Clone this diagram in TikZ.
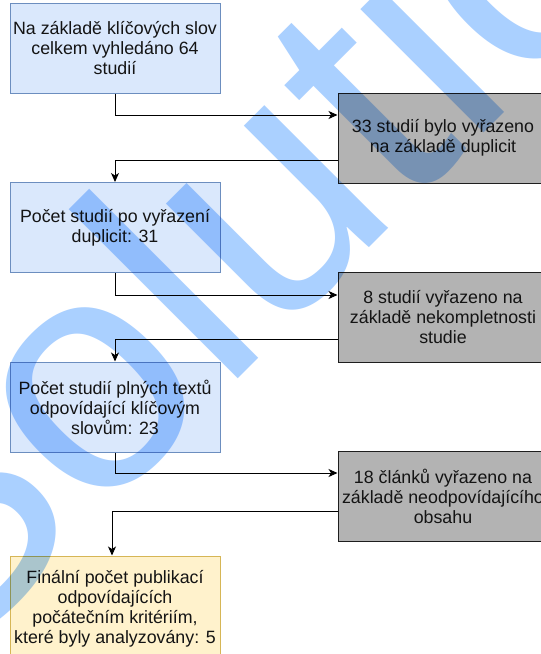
\documentclass[tikz,border=0pt]{standalone}
\usepackage{fontspec}
\setmainfont{Liberation Sans}
\newfontfamily\wmfont{Liberation Sans}
\usetikzlibrary{arrows.meta}
\definecolor{bluefill}{HTML}{DAE8FC}
\definecolor{bluedraw}{HTML}{6C8EBF}
\definecolor{greyfill}{RGB}{179,179,179}
\definecolor{greydraw}{RGB}{30,30,30}
\definecolor{yelfill}{HTML}{FFF2CC}
\definecolor{yeldraw}{HTML}{D6B656}
\definecolor{wm}{RGB}{170,208,255}
\definecolor{txt}{RGB}{20,20,20}
\tikzset{
  box/.style={minimum width=210pt, minimum height=90pt, inner sep=0pt, align=center,
    font=\fontsize{17.8}{20}\selectfont, text=txt, line width=1pt},
  bluebox/.style={box, fill=bluefill, draw=bluedraw},
  greybox/.style={box, fill=greyfill, draw=greydraw},
  yelbox/.style={box, fill=yelfill, draw=yeldraw, minimum height=105pt},
  arr/.style={line width=1pt, draw=black, -{Stealth[length=9pt,width=8pt,inset=2.5pt]}},
}
\begin{document}
\begin{tikzpicture}[x=1pt, y=-1pt]
\useasboundingbox (0,0) rectangle (541,654);
\clip (0,0) rectangle (541,654);
\fill[white] (0,0) rectangle (541,654);
\node[bluebox] (b1) at (115,48) {Na základě klíčových slov\\celkem vyhledáno 64\\studií};
\node[greybox] (g1) at (443,138) {33 studií bylo vyřazeno\\na základě duplicit};
\node[bluebox] (b2) at (115,227.5) {Počet studií po vyřazení\\duplicit: 31};
\node[greybox] (g2) at (443,317) {8 studií vyřazeno na\\základě nekompletnosti\\studie};
\node[bluebox] (b3) at (115,407) {Počet studií plných textů\\odpovídající klíčovým\\slovům: 23};
\node[greybox] (g3) at (443,496) {18 článků vyřazeno na\\základě neodpovídajícího\\obsahu};
\node[yelbox] (y) at (115,608.5) {Finální počet publikací\\odpovídajících\\počátečním kritériím,\\které byly analyzovány: 5};
\draw[arr] (b1.south) |- ([yshift=23pt]g1.west);
\draw[arr] ([yshift=-22pt]g1.west) -| (b2.north);
\draw[arr] (b2.south) |- ([yshift=22pt]g2.west);
\draw[arr] ([yshift=-22.5pt]g2.west) -| (b3.north);
\draw[arr] (b3.south) |- ([yshift=23pt]g3.west);
\draw[arr] ([yshift=-15pt]g3.west) -| ([xshift=-3pt]y.north);
\begin{scope}[blend mode=multiply]
\node[rotate=45, anchor=base west, inner sep=0pt, text=wm,
  font=\fontsize{330}{330}\selectfont\wmfont] (wmark) at (-63,680) {Solutions};
\end{scope}
\end{tikzpicture}
\end{document}
